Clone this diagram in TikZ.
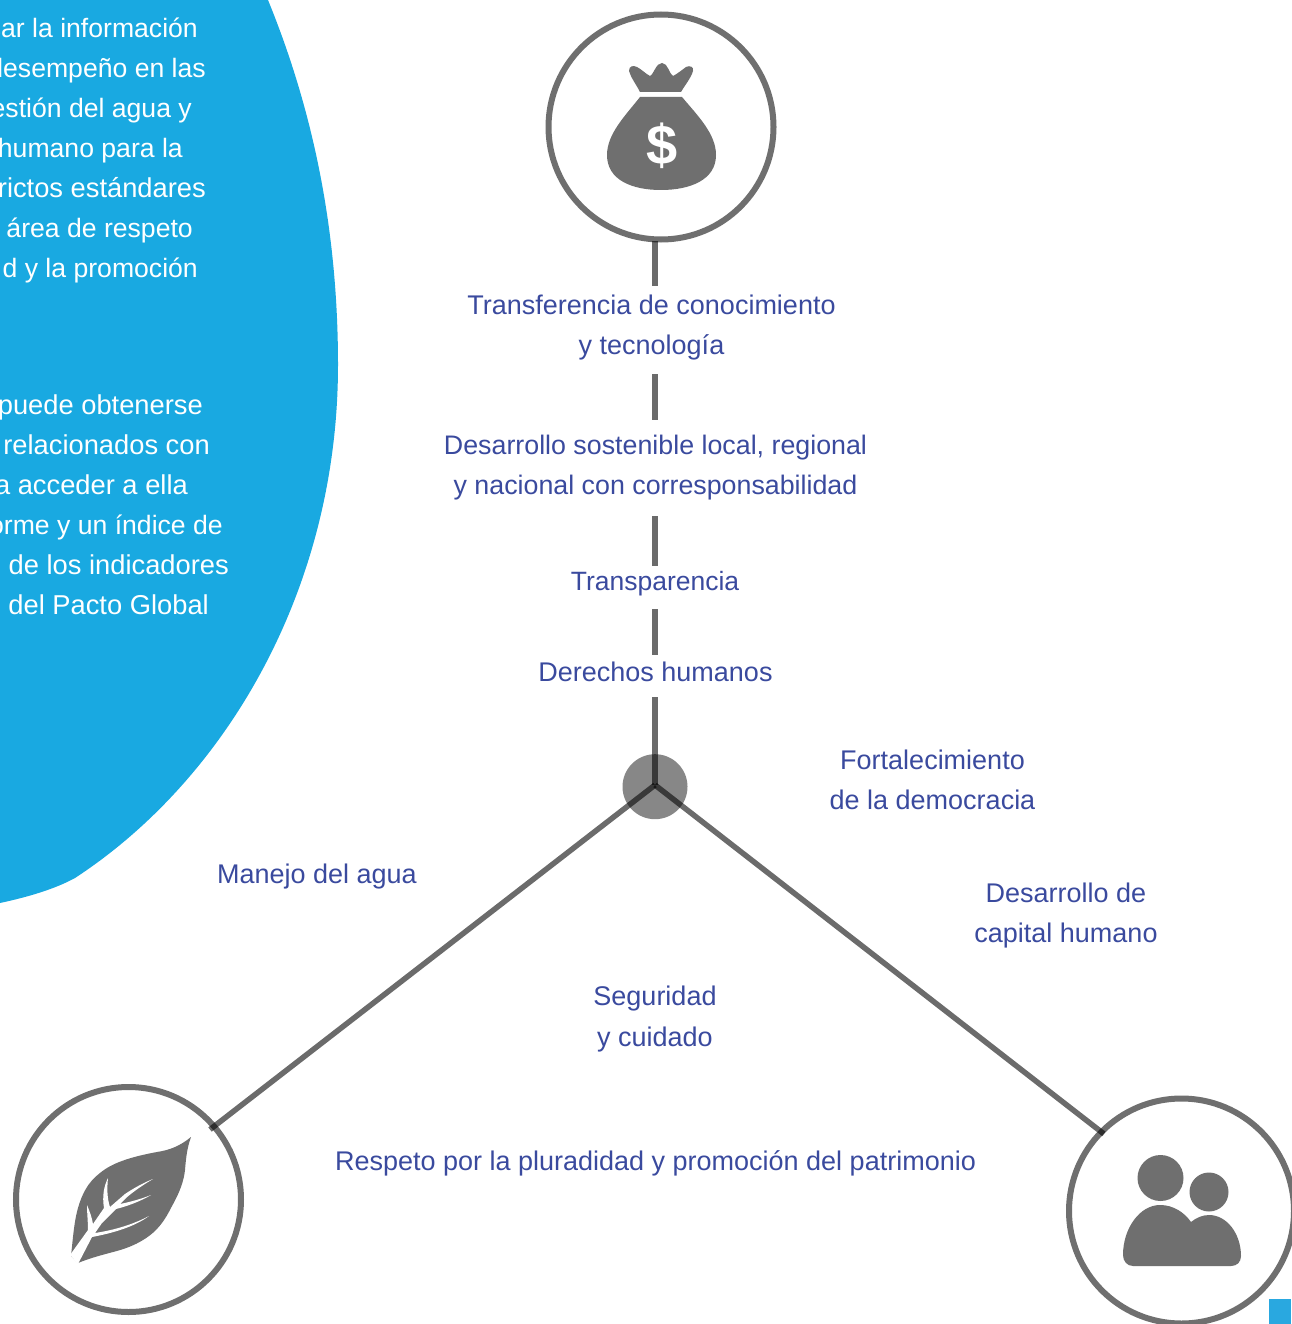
\documentclass[tikz,border=0pt]{standalone}
\usepackage{fontspec}
\setmainfont{Liberation Sans}
\definecolor{blob}{HTML}{19A9E1}
\definecolor{sq}{HTML}{29A8E0}
\definecolor{ink}{HTML}{3A4A9E}
\definecolor{gr}{HTML}{6F6F6F}
\tikzset{
 lab/.style={text=ink,font=\fontsize{27}{40}\selectfont,align=center,inner sep=0pt},
 wt/.style={text=white,font=\fontsize{26.6}{40}\selectfont,anchor=base east,inner sep=0pt},
 wtb/.style={wt,font=\fontsize{27.3}{40}\selectfont},
 ring/.style={circle,draw=gr,line width=6pt,fill=white,inner sep=0pt,minimum size=225pt},
 link/.style={draw=black,draw opacity=.58,line width=5.5pt},
 icon/.style={fill=gr,draw=none}
}
\begin{document}
\begin{tikzpicture}[x=1pt,y=-1pt]
\useasboundingbox (0,0) rectangle (1291,1324);
% blue shape
\fill[blob] (0,0) -- (268,0) .. controls (315,115) and (338,235) .. (338,365)
 .. controls (338,590) and (225,780) .. (75,878) .. controls (55,889) and (28,897) .. (0,903) -- cycle;
\node[wt] (t1) at (198,37.5) {sar la información};
\node[wt] (t2) at (206,77.5) {desempeño en las};
\node[wt] (t3) at (192,117.5) {estión del agua y};
\node[wt] (t4) at (183,157.5) {humano para la};
\node[wtb] (t5) at (206,197.5) {rictos estándares};
\node[wt] (t6) at (193,237.5) {área de respeto};
\node[wt] (t7) at (198,277.5) {d y la promoción};
\node[wtb] (t8) at (203,414.5) {puede obtenerse};
\node[wtb] (t9) at (210,454.5) {relacionados con};
\node[wtb] (t10) at (188,494.5) {a acceder a ella};
\node[wt] (t11) at (223,534.5) {orme y un índice de};
\node[wtb] (t12) at (229,574.5) {l de los indicadores};
\node[wtb] (t13) at (209,614.5) {del Pacto Global};
% rings
\node[ring] (top) at (661,127) {};
\node[ring] (leaf) at (128.5,1199.5) {};
\node[ring] (people) at (1181.5,1211) {};
% hub
\node[circle,fill=black,fill opacity=.47,minimum size=65pt,inner sep=0pt] (hub) at (655,786.7) {};
\coordinate (hc) at (655,785);
\coordinate (topend) at (655,241);
\coordinate (leafend) at (210,1129.5);
\coordinate (peopleend) at (1104,1134);
\coordinate (a1) at (655,286);
\coordinate (a2) at (655,374);
\coordinate (b1) at (655,420);
\coordinate (b2) at (655,516);
\coordinate (c1) at (655,566);
\coordinate (c2) at (655,609);
\coordinate (d1) at (655,655);
\coordinate (d2) at (655,697);
% connectors
\draw[link] (topend) -- (a1);
\draw[link] (a2) -- (b1);
\draw[link] (b2) -- (c1);
\draw[link] (c2) -- (d1);
\draw[link] (d2) -- (hc);
\draw[link] (leafend) -- (hc);
\draw[link] (peopleend) -- (hc);
% labels
\node[lab] (a) at (651.5,327.5) {Transferencia de conocimiento\\y tecnología};
\node[lab,font=\fontsize{26.8}{40}\selectfont] (b) at (655.5,467.5) {Desarrollo sostenible local, regional\\y nacional con corresponsabilidad};
\node[lab,font=\fontsize{26.5}{40}\selectfont] (c) at (655,584) {Transparencia};
\node[lab] (d) at (655.5,671.5) {Derechos humanos};
\node[lab] (e) at (932.5,779.5) {Fortalecimiento\\de la democracia};
\node[lab] (f) at (317,877) {Manejo del agua};
\node[lab] (g) at (1066,915.5) {Desarrollo de\\capital humano};
\node[lab,font=\fontsize{27}{41}\selectfont] (h) at (655,1019) {Seguridad\\y cuidado};
\node[lab] (i) at (655.5,1163) {Respeto por la pluradidad y promoción del patrimonio};
% money bag
\fill[icon] (640,92) .. controls (636,84) and (631,78) .. (629,71) .. controls (629,66) and (633,65) .. (637,67)
 .. controls (641,69) and (646,74) .. (650,76) .. controls (654,74) and (656,63) .. (662,63)
 .. controls (668,63) and (669,74) .. (673,76) .. controls (677,74) and (682,70) .. (686,67)
 .. controls (690,65) and (694,67) .. (693,71) .. controls (691,78) and (685,85) .. (681,92) -- cycle;
\fill[icon] (640,97) -- (682,97) .. controls (698,116) and (716,134) .. (716,155)
 .. controls (716,180) and (690,190) .. (661,190) .. controls (632,190) and (607,180) .. (607,155)
 .. controls (607,134) and (625,116) .. (640,97) -- cycle;
\node[text=white,font=\fontsize{56}{56}\bfseries\selectfont,inner sep=0pt] (dollar) at (662,146) {\$};
% leaf
\fill[icon] (191,1137) .. controls (180,1146) and (170,1150) .. (157,1152)
 .. controls (130,1157) and (112,1163) .. (100,1173) .. controls (88,1182) and (82,1194) .. (78,1208)
 .. controls (74,1222) and (73,1238) .. (71,1256) -- (78,1263)
 .. controls (90,1258) and (102,1255) .. (113,1252) .. controls (125,1249) and (135,1245) .. (143,1240)
 .. controls (158,1231) and (165,1220) .. (172,1206) .. controls (180,1192) and (184,1180) .. (185,1170)
 .. controls (186,1158) and (187,1148) .. (191,1137) -- cycle;
\fill[white] (70,1255) -- (88,1230) .. controls (88,1222) and (87,1213) .. (87,1205)
 .. controls (90,1212) and (92,1218) .. (93,1224) -- (104,1208)
 .. controls (102,1196) and (104,1186) .. (108,1178) .. controls (107,1188) and (107,1198) .. (110,1207)
 -- (125,1194) .. controls (134,1188) and (143,1183) .. (153,1179)
 .. controls (143,1185) and (134,1191) .. (126,1198) -- (120,1204)
 .. controls (130,1202) and (141,1199) .. (151,1195) .. controls (141,1201) and (128,1206) .. (116,1209)
 -- (102,1223) -- (95,1233) .. controls (115,1230) and (134,1224) .. (149,1216)
 .. controls (134,1227) and (113,1233) .. (92,1237) -- (78,1264) -- cycle;
% people
\fill[icon] (1160.5,1178) circle (23);
\fill[icon] (1209,1192) circle (19.5);
\fill[icon] (1133,1266) .. controls (1127,1266) and (1123,1261) .. (1123,1255)
 .. controls (1123,1228) and (1140,1205) .. (1160,1205) .. controls (1173,1205) and (1184,1212) .. (1191,1222)
 .. controls (1196,1218) and (1202,1215) .. (1209,1215) .. controls (1227,1215) and (1241,1234) .. (1241,1256)
 .. controls (1241,1262) and (1237,1266) .. (1231,1266) -- cycle;
% corner square
\fill[sq] (1269,1299) rectangle (1291,1324);
\end{tikzpicture}
\end{document}
